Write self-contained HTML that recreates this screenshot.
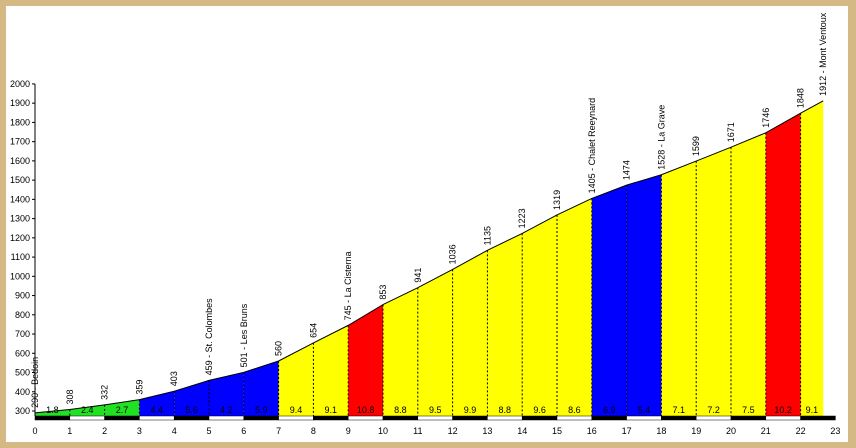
<!DOCTYPE html>
<html><head><meta charset="utf-8"><style>
html,body{margin:0;padding:0;background:#d5b984;}
#wrap{position:absolute;left:6px;top:6px;width:842px;height:436px;background:#fff;}
svg{position:absolute;left:0;top:0;}
text{font-family:"Liberation Sans",Arial,sans-serif;font-size:9px;fill:#000;}
</style></head><body>
<div id="wrap"></div>
<svg id="chart" width="856" height="448"></svg>
<script>
const kms=[0,1,2,3,4,5,6,7,8,9,10,11,12,13,14,15,16,17,18,19,20,21,22,22.65];
const elev=[290,308,332,359,403,459,501,560,654,745,853,941,1036,1135,1223,1319,1405,1474,1528,1599,1671,1746,1848,1912];
const grades=[1.8,2.4,2.7,4.4,5.6,4.2,5.9,9.4,9.1,10.8,8.8,9.5,9.9,8.8,9.6,8.6,6.9,5.4,7.1,7.2,7.5,10.2,9.1];
const segColors=["#22e022","#22e022","#22e022","#0000ff","#0000ff","#0000ff","#0000ff","#ffff00","#ffff00","#ff0000","#ffff00","#ffff00","#ffff00","#ffff00","#ffff00","#ffff00","#0000ff","#0000ff","#ffff00","#ffff00","#ffff00","#ff0000","#ffff00"];
const placeNames=["Bedoin","","","","","St. Colombes","Les Bruns","","","La Cisterna","","","","","","","Chalet Reeynard","","La Grave","","","","","Mont Ventoux"];
const yTicks=[300,400,500,600,700,800,900,1000,1100,1200,1300,1400,1500,1600,1700,1800,1900,2000];
const xTicks=[0,1,2,3,4,5,6,7,8,9,10,11,12,13,14,15,16,17,18,19,20,21,22,23];

const NS="http://www.w3.org/2000/svg";
const svg=document.getElementById('chart');
const X=k=>35+k*34.8;
const Y=v=>411-(v-300)*0.1924;
const base=416;
function mk(t,a,p){const e=document.createElementNS(NS,t);for(const k in a)e.setAttribute(k,a[k]);(p||svg).appendChild(e);return e;}

// segments
for(let i=0;i<kms.length-1;i++){
  const x0=X(kms[i]),x1=X(kms[i+1]);
  const p=mk('polygon',{points:`${x0},${base} ${x0},${Y(elev[i])} ${x1},${Y(elev[i+1])} ${x1},${base}`,fill:segColors[i]});
  
  
  if(i>0){
    const l=mk('line',{x1:x0,x2:x0,y1:Y(elev[i]),y2:base,stroke:'#000','stroke-width':1,'stroke-dasharray':'2,2'});
    
    
  }
  const g=mk('text',{x:(x0+x1)/2,y:413,'text-anchor':'middle'});
  g.textContent=grades[i];
  
  
}
// profile line
const pl=mk('polyline',{points:kms.map((k,i)=>X(k)+','+Y(elev[i])).join(' '),fill:'none',stroke:'#000','stroke-width':1});



// elevation labels
kms.forEach((k,i)=>{
  const x=X(k)+3,y=Y(elev[i])-5;
  const t=mk('text',{x:x,y:y,transform:`rotate(-90 ${x} ${y})`,'text-anchor':'start'});
  t.textContent=elev[i]+(placeNames[i]?' - '+placeNames[i]:'');
  
  
});

// km strip
for(let i=0;i<23;i++){
  const r=mk('rect',{x:X(i),y:416,width:34.8,height:4,fill:i%2==0?'#000':'#fff',stroke:'#000','stroke-width':0.5});
  
  
}
// y axis
const ya=mk('line',{x1:35,x2:35,y1:Y(2000),y2:base,stroke:'#000','stroke-width':1});


yTicks.forEach(v=>{
  const tk=mk('line',{x1:32,x2:35,y1:Y(v),y2:Y(v),stroke:'#000'});
  
  
  const t=mk('text',{x:30,y:Y(v)+3,'text-anchor':'end'});
  t.textContent=v;
  
  
});
xTicks.forEach(v=>{
  const t=mk('text',{x:X(v),y:434,'text-anchor':'middle'});
  t.textContent=v;
  
  
});
</script>
</body></html>
